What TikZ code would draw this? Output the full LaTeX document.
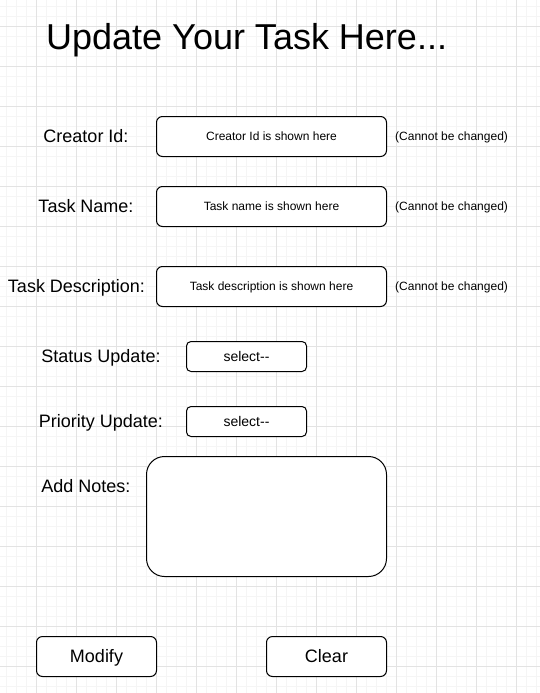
\documentclass[tikz,border=0pt]{standalone}
\usepackage{fontspec}
\setmainfont{Liberation Sans}
\begin{document}
\begin{tikzpicture}[x=1pt,y=-1pt,
  fieldbox/.style={draw=black,line width=1pt,fill=white,rounded corners=6pt,inner sep=0pt,anchor=north west},
  lbl/.style={font=\fontsize{18}{21}\selectfont,inner sep=0pt,text height=12.9pt,text depth=0pt},
  note/.style={font=\fontsize{12}{14}\selectfont,inner sep=0pt,text height=8.6pt,text depth=0pt},
  small/.style={font=\fontsize{12}{14}\selectfont,inner sep=0pt,text height=8.6pt,text depth=0pt},
  sel/.style={font=\fontsize{14}{16}\selectfont,inner sep=0pt,text height=10pt,text depth=0pt}]
\useasboundingbox (0,0) rectangle (540,693);
\fill[white] (0,0) rectangle (540,693);
% grid
\foreach \x in {6,16,...,536} \draw[color=black!4,line width=0.8pt] (\x,0) -- (\x,693);
\foreach \y in {6,16,...,686} \draw[color=black!4,line width=0.8pt] (0,\y) -- (540,\y);
\foreach \x in {36,76,...,516} \draw[color=black!11,line width=0.8pt] (\x,0) -- (\x,693);
\foreach \y in {26,66,...,666} \draw[color=black!11,line width=0.8pt] (0,\y) -- (540,\y);
% title
\node[inner sep=0pt,anchor=west,font=\fontsize{36}{40}\selectfont,text height=25.8pt,text depth=0pt] (title) at (46,37) {Update Your Task Here...};
% row 1
\node[lbl] (l1) at (86,136) {Creator Id:};
\node[fieldbox,minimum width=230pt,minimum height=40pt] (b1) at (156,116) {};
\node[small] (t1) at (b1.center) {Creator Id is shown here};
\node[note,anchor=west] (n1) at (395,136) {(Cannot be changed)};
% row 2
\node[lbl] (l2) at (86,206) {Task Name:};
\node[fieldbox,minimum width=230pt,minimum height=40pt] (b2) at (156,186) {};
\node[small] (t2) at (b2.center) {Task name is shown here};
\node[note,anchor=west] (n2) at (395,206) {(Cannot be changed)};
% row 3
\node[lbl] (l3) at (76.5,286) {Task Description:};
\node[fieldbox,minimum width=230pt,minimum height=40pt] (b3) at (156,266) {};
\node[small] (t3) at (b3.center) {Task description is shown here};
\node[note,anchor=west] (n3) at (395,286) {(Cannot be changed)};
% status
\node[lbl] (l4) at (101,356) {Status Update:};
\node[fieldbox,rounded corners=4.5pt,minimum width=120pt,minimum height=30pt] (b4) at (186,341) {};
\node[sel] (t4) at (b4.center) {select{-}{-}};
% priority
\node[lbl] (l5) at (101,421) {Priority Update:};
\node[fieldbox,rounded corners=4.5pt,minimum width=120pt,minimum height=30pt] (b5) at (186,406) {};
\node[sel] (t5) at (b5.center) {select{-}{-}};
% notes
\node[lbl] (l6) at (86,486) {Add Notes:};
\node[fieldbox,rounded corners=18pt,minimum width=240pt,minimum height=120pt] (b6) at (146,456) {};
% buttons
\node[fieldbox,minimum width=120pt,minimum height=40pt] (b7) at (36,636) {};
\node[lbl] (t7) at (b7.center) {Modify};
\node[fieldbox,minimum width=120pt,minimum height=40pt] (b8) at (266,636) {};
\node[lbl] (t8) at (b8.center) {Clear};
\end{tikzpicture}
\end{document}
